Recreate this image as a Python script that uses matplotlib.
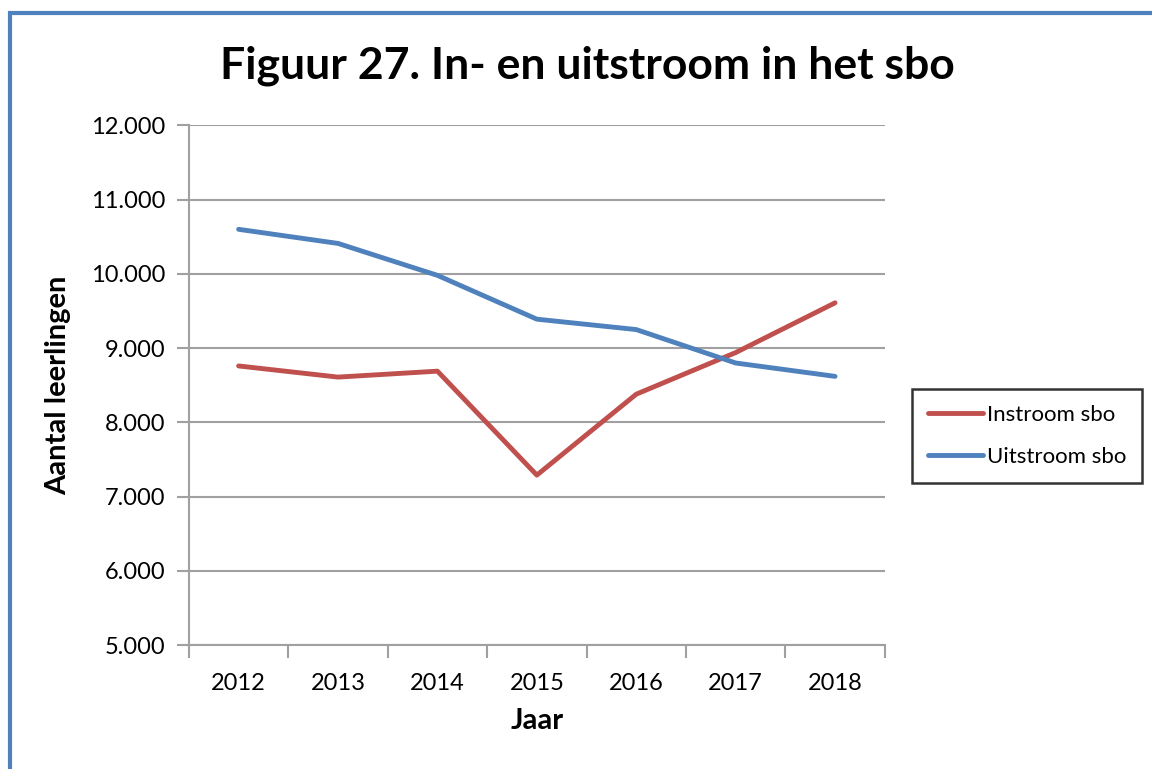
import numpy as np
import matplotlib.pyplot as plt
from matplotlib.patches import Rectangle
from matplotlib.ticker import FuncFormatter

plt.rcParams['font.family'] = ['Lato', 'DejaVu Sans']

jaren = ["2012", "2013", "2014", "2015", "2016", "2017", "2018"]
instroom = [8760, 8610, 8690, 7290, 8380, 8940, 9610]
uitstroom = [10600, 10410, 9980, 9390, 9250, 8800, 8620]
y_ticks = [5000, 6000, 7000, 8000, 9000, 10000, 11000, 12000]

fig = plt.figure(figsize=(11.52, 7.69), dpi=100)
ax = fig.add_axes([0.164, 0.161, 0.604, 0.676])

x = np.arange(len(jaren))
ax.plot(x, instroom, color="#c0504d", lw=3.5, label="Instroom sbo", solid_capstyle="round")
ax.plot(x, uitstroom, color="#4f81bd", lw=3.5, label="Uitstroom sbo", solid_capstyle="round")

ax.set_xlim(-0.5, len(jaren) - 0.5)
ax.set_ylim(5000, 12000)
ax.set_yticks(y_ticks)
ax.yaxis.set_major_formatter(FuncFormatter(lambda v, p: f"{int(v):,}".replace(",", ".")))
ax.grid(axis="y", color="#a0a0a0", lw=1.5)
ax.set_axisbelow(True)

# category labels centred, tick marks between categories (Excel style)
ax.set_xticks(np.arange(-0.5, len(jaren)), minor=False)
ax.set_xticklabels([])
ax.set_xticks(x, minor=True)
ax.set_xticklabels(jaren, minor=True, fontsize=17)
ax.tick_params(axis="x", which="minor", length=0, pad=20)
ax.tick_params(axis="x", which="major", length=9, width=1.5, color="#a0a0a0", direction="out")
ax.tick_params(axis="y", length=9, width=1.5, color="#a0a0a0", labelsize=17, pad=8)

for s in ["top", "right"]:
    ax.spines[s].set_visible(False)
for s in ["left", "bottom"]:
    ax.spines[s].set_color("#a0a0a0")
    ax.spines[s].set_linewidth(1.5)

ax.set_xlabel("Jaar", fontsize=21, fontweight="bold", labelpad=10)
ax.set_ylabel("Aantal leerlingen", fontsize=21, fontweight="bold", labelpad=14)
fig.text(0.51, 0.915, "Figuur 27. In- en uitstroom in het sbo", ha="center", va="center",
         fontsize=32, fontweight="bold")

leg = fig.legend(loc="center left", bbox_to_anchor=(0.792, 0.433), fontsize=16,
                 frameon=True, fancybox=False, edgecolor="black", handlelength=2.5,
                 handletextpad=0.15, borderpad=0.7, borderaxespad=0.0, labelspacing=1.0)
leg.get_frame().set_linewidth(1.8)

fig.patches.append(Rectangle((10 / 1152, -0.1), 1.2, 1 - 13 / 769 + 0.1,
                             transform=fig.transFigure, fill=False,
                             edgecolor="#4f81bd", lw=3))

fig.savefig("out.png", dpi=100)
